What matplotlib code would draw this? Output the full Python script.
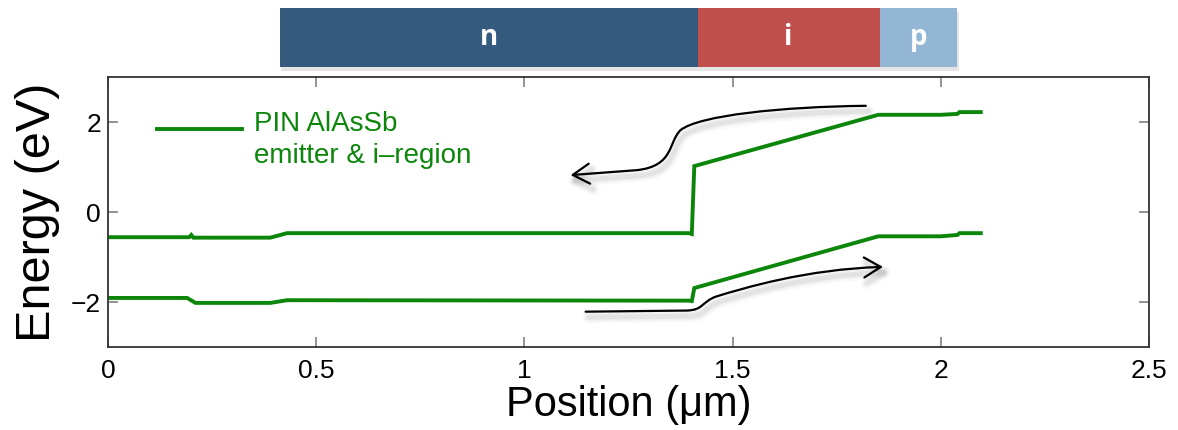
import matplotlib
matplotlib.use("Agg")
import matplotlib.pyplot as plt
from matplotlib.path import Path
from matplotlib.patches import FancyArrowPatch, Rectangle
from matplotlib.transforms import blended_transform_factory
import matplotlib.patheffects as pe

plt.rcParams['font.family'] = ['Liberation Sans', 'DejaVu Sans']

# Band edges of the PIN AlAsSb structure (position in um, energy in eV)
cb_pos = [0.0, 0.195, 0.200, 0.205, 0.39, 0.43, 1.395, 1.402, 1.408, 1.85, 2.00, 2.040, 2.045, 2.096]
cb_energy = [-0.56, -0.56, -0.51, -0.57, -0.57, -0.47, -0.47, -0.49, 1.02, 2.16, 2.16, 2.18, 2.22, 2.22]

vb_pos = [0.0, 0.19, 0.21, 0.39, 0.43, 1.395, 1.402, 1.408, 1.85, 2.00, 2.040, 2.045, 2.096]
vb_energy = [-1.91, -1.91, -2.02, -2.02, -1.96, -1.97, -1.98, -1.69, -0.54, -0.54, -0.51, -0.47, -0.47]

# Layer stack shown above the plot
layer_names = ['n', 'i', 'p']
layer_start = [0.413, 1.416, 1.853]
layer_end = [1.416, 1.853, 2.040]
layer_colors = ['#345a7e', '#c0504d', '#94b6d5']

x_ticks = [0, 0.5, 1, 1.5, 2, 2.5]
x_tick_labels = ['0', '0.5', '1', '1.5', '2', '2.5']
y_ticks = [-2, 0, 2]

legend_text = 'PIN AlAsSb\nemitter & i\u2013region'
green = '#0b860b'

fig = plt.figure(figsize=(11.78, 4.30), dpi=100)
ax = fig.add_axes([108 / 1178, 83 / 430, (1149 - 108) / 1178, (347 - 77) / 430])

ax.plot(cb_pos, cb_energy, color=green, lw=2.8, solid_joinstyle='miter')
ax.plot(vb_pos, vb_energy, color=green, lw=2.8, solid_joinstyle='miter')

ax.set_xlim(0, 2.5)
ax.set_ylim(-3, 3)
ax.set_xticks(x_ticks)
ax.set_xticklabels(x_tick_labels)
ax.set_yticks(y_ticks)
ax.tick_params(direction='in', top=True, right=True, length=7, width=1.1,
               color='#777777', labelsize=19)
ax.tick_params(axis='x', pad=9)
ax.tick_params(axis='y', pad=5)
for s in ax.spines.values():
    s.set_color('#333333')
    s.set_linewidth(1.3)

ax.set_xlabel('Position (\u03bcm)', fontsize=30, labelpad=1)
ax.set_ylabel('Energy (eV)', fontsize=35, labelpad=8)

# legend entry
ax.plot([0.118, 0.322], [1.84, 1.84], color=green, lw=2.8)
ax.text(0.351, 1.60, legend_text, color=green, fontsize=20, va='center', ha='left',
        linespacing=1.28)

# carrier-flow arrows
shadow = [pe.SimpleLineShadow(offset=(2, -4), shadow_color='k', alpha=a, linewidth=w)
          for a, w in ((0.025, 9), (0.035, 6), (0.05, 3.5))] + [pe.Normal()]

electron_path = Path(
    [(1.82, 2.36), (1.62, 2.34), (1.42, 2.15), (1.375, 1.82),
     (1.345, 1.55), (1.36, 1.02), (1.27, 0.93), (1.111, 0.82)],
    [Path.MOVETO, Path.CURVE4, Path.CURVE4, Path.CURVE4,
     Path.CURVE4, Path.CURVE4, Path.CURVE4, Path.LINETO])
hole_path = Path(
    [(1.147, -2.215), (1.39, -2.19), (1.43, -2.18), (1.425, -2.0), (1.46, -1.88),
     (1.53, -1.68), (1.68, -1.27), (1.861, -1.22)],
    [Path.MOVETO, Path.LINETO, Path.CURVE4, Path.CURVE4, Path.CURVE4,
     Path.CURVE4, Path.CURVE4, Path.CURVE4])
for p in (electron_path, hole_path):
    arr = FancyArrowPatch(path=p, arrowstyle='->,head_length=0.6,head_width=0.36',
                          mutation_scale=20, color='black', lw=1.6, clip_on=False)
    arr.set_path_effects(shadow)
    ax.add_patch(arr)

# layer stack bar
trans = blended_transform_factory(ax.transData, fig.transFigure)
bar_bottom = (430 - 67) / 430
bar_height = 59 / 430
for x0, x1, c, name in zip(layer_start, layer_end, layer_colors, layer_names):
    r = Rectangle((x0, bar_bottom), x1 - x0, bar_height, transform=trans,
                  facecolor=c, edgecolor='none', clip_on=False)
    r.set_path_effects([pe.SimplePatchShadow(offset=(1, -3), shadow_rgbFace='k', alpha=0.1),
                        pe.Normal()])
    ax.add_artist(r)
    ax.text((x0 + x1) / 2, bar_bottom + bar_height / 2, name, transform=trans,
            color='white', fontsize=20, fontweight='bold', ha='center', va='center',
            family=['Open Sans', 'DejaVu Sans'], clip_on=False)

fig.savefig('out.png', dpi=100)
